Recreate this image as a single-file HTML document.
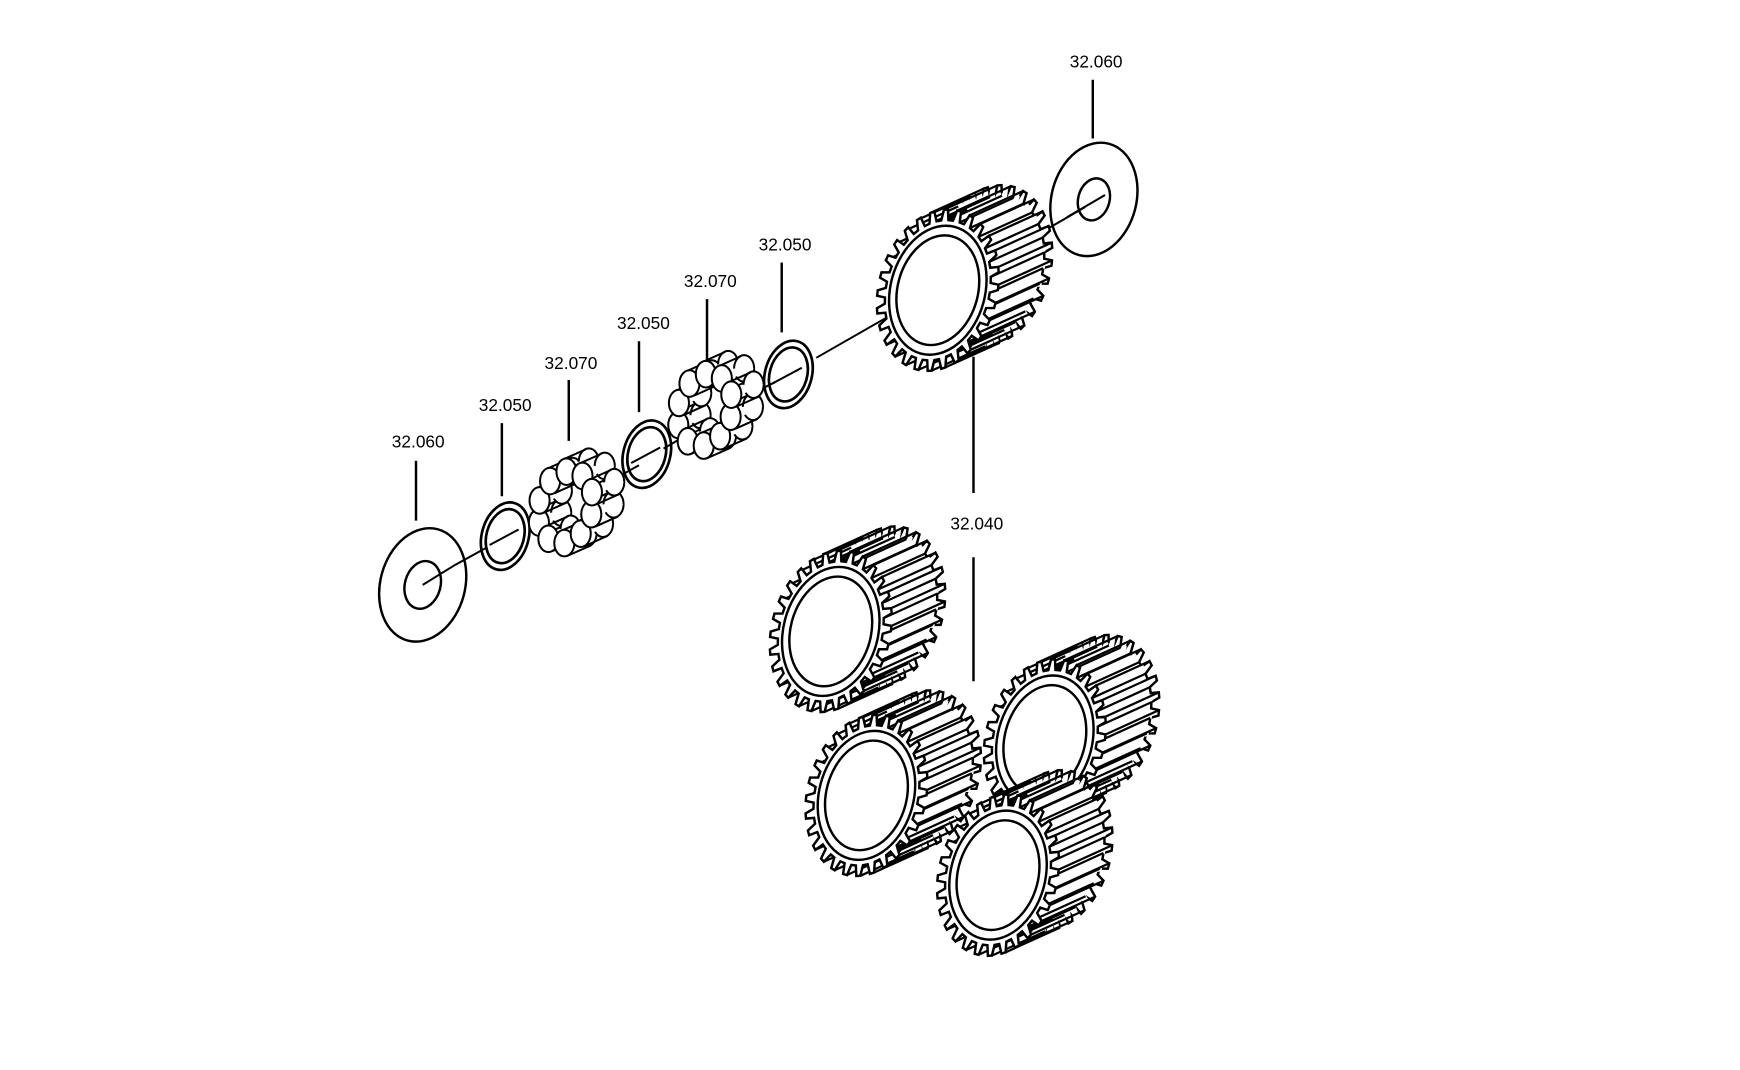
<!DOCTYPE html>
<html><head><meta charset="utf-8"><style>
html,body{margin:0;padding:0;background:#fff;width:1740px;height:1070px;overflow:hidden}
svg{display:block}
text{font-family:"Liberation Sans",sans-serif;font-size:15.5px;fill:#000}
</style></head><body>
<svg id="s" width="1740" height="1070" viewBox="0 0 1548 952" xmlns="http://www.w3.org/2000/svg">
<g transform="matrix(0.992,0,0,0.9856,-4.9,0)">
<g stroke="#000" stroke-width="2.2" fill="none">
<line x1="378" y1="416" x2="378" y2="470"/>
<line x1="455" y1="382" x2="455" y2="448"/>
<line x1="515" y1="343" x2="515" y2="398"/>
<line x1="578" y1="308" x2="578" y2="372"/>
<line x1="639" y1="270" x2="639" y2="325"/>
<line x1="706" y1="237" x2="706" y2="300"/>
<line x1="985" y1="72" x2="985" y2="125"/>
<line x1="878" y1="322" x2="878" y2="445"/>
<line x1="878" y1="503" x2="878" y2="615"/>
</g>
<text x="380" y="404" text-anchor="middle">32.060</text>
<text x="458" y="371" text-anchor="middle">32.050</text>
<text x="517" y="333" text-anchor="middle">32.070</text>
<text x="582" y="297" text-anchor="middle">32.050</text>
<text x="642" y="259" text-anchor="middle">32.070</text>
<text x="709" y="226" text-anchor="middle">32.050</text>
<text x="988" y="61" text-anchor="middle">32.060</text>
<text x="881" y="478" text-anchor="middle">32.040</text>
<g id="g"></g>
</g>
</svg>
<script>
var NS="http://www.w3.org/2000/svg",G=document.getElementById("g");
var phi=15*Math.PI/180,cp=Math.cos(phi),sp=Math.sin(phi);
function P(cx,cy,sx,sy,t,r){var u=sx*r*Math.cos(t),v=sy*r*Math.sin(t);return [cx+u*cp-v*sp,cy+u*sp+v*cp];}
function el(tag,a){var e=document.createElementNS(NS,tag);for(var k in a)e.setAttribute(k,a[k]);G.appendChild(e);return e;}
function ell(cx,cy,sx,sy,r,fill,w){el("ellipse",{cx:cx,cy:cy,rx:sx*r,ry:sy*r,transform:"rotate(15 "+cx+" "+cy+")",fill:fill||"none",stroke:"#000","stroke-width":w||2.2});}
function line(a,b,w){el("line",{x1:a[0],y1:a[1],x2:b[0],y2:b[1],stroke:"#000","stroke-width":w||2});}
function gear(cx,cy,s){
 var sx=53*s,sy=74*s,N=28,dx=48*s,dy=-22*s,ro=1,rr=0.87;
 function prof(ox,oy){var pts=[];for(var i=0;i<N;i++){var a=i*2*Math.PI/N,h=Math.PI/N;
  [[a-h*0.6,rr],[a-h*0.3,ro],[a+h*0.3,ro],[a+h*0.6,rr]].forEach(function(q){var p=P(cx+ox,cy+oy,sx,sy,q[0],q[1]);pts.push(p[0].toFixed(1)+","+p[1].toFixed(1));});}
  return pts.join(" ");}
 el("polygon",{points:prof(dx,dy),fill:"#fff",stroke:"#000","stroke-width":2.2});
 for(var k=1;k<8;k++){el("polygon",{points:prof(dx*k/8,dy*k/8),fill:"#fff",stroke:"none"});}
 for(var i=0;i<N;i++){var a=i*2*Math.PI/N,h=Math.PI/N;
  [[a-h*0.3,ro],[a+h*0.6,rr]].forEach(function(q){var p=P(cx,cy,sx,sy,q[0],q[1]);line(p,[p[0]+dx,p[1]+dy],2);});}
 el("polygon",{points:prof(0,0),fill:"#fff",stroke:"#000","stroke-width":2.2});
 ell(cx,cy,sx,sy,0.8,"#fff");ell(cx,cy,sx,sy,0.68,"#fff");
}
function bearing(cx,cy){
 var dx=20,dy=-9;
 var pos=[];for(var i=0;i<10;i++){var t=i*2*Math.PI/10;pos.push(P(cx,cy,24,33,t,1));}
 pos.sort(function(a,b){return a[0]-b[0];});
 pos.forEach(function(p){
  el("ellipse",{cx:p[0]+dx,cy:p[1]+dy,rx:9,ry:12,fill:"#fff",stroke:"#000","stroke-width":1.8});
  el("polygon",{points:(p[0]-9)+","+p[1]+" "+(p[0]+dx-9)+","+(p[1]+dy)+" "+(p[0]+dx+9)+","+(p[1]+dy)+" "+(p[0]+9)+","+p[1],fill:"#fff",stroke:"none"});
  line([p[0]-3,p[1]-11],[p[0]+dx-3,p[1]+dy-11],1.8);line([p[0]+4,p[1]+11],[p[0]+dx+4,p[1]+dy+11],1.8);
  el("ellipse",{cx:p[0],cy:p[1],rx:9,ry:12,fill:"#fff",stroke:"#000","stroke-width":1.8});
 });
}
line([413,510],[440,495],1.8);line([480,470],[495,462],1.8);line([560,430],[578,420],1.8);
line([600,405],[622,392],1.8);line([690,350],[700,345],1.8);line([737,323],[855,255],1.8);line([935,212],[978,187],1.8);
ell(384,528,38,52,1);ell(384,528,38,52,0.42);line([384,528],[413,510],1.8);
[[458,484],[585,410],[712,338]].forEach(function(c){ell(c[0],c[1],21,31,1,"none",2.4);ell(c[0],c[1],21,31,0.8,"none",2.4);line([c[0]-14,c[1]+8],[c[0]+12,c[1]-6],1.8);});
bearing(512,458);bearing(637,370);
ell(986,180,38,52,1);ell(986,180,38,52,0.37);line([962,196],[996,176],1.8);
gear(846,262,1.0);
gear(750,570,1.0);
gear(942,668,1.0);
gear(782,718,1.0);
gear(900,790,1.0);
</script>
</body></html>
